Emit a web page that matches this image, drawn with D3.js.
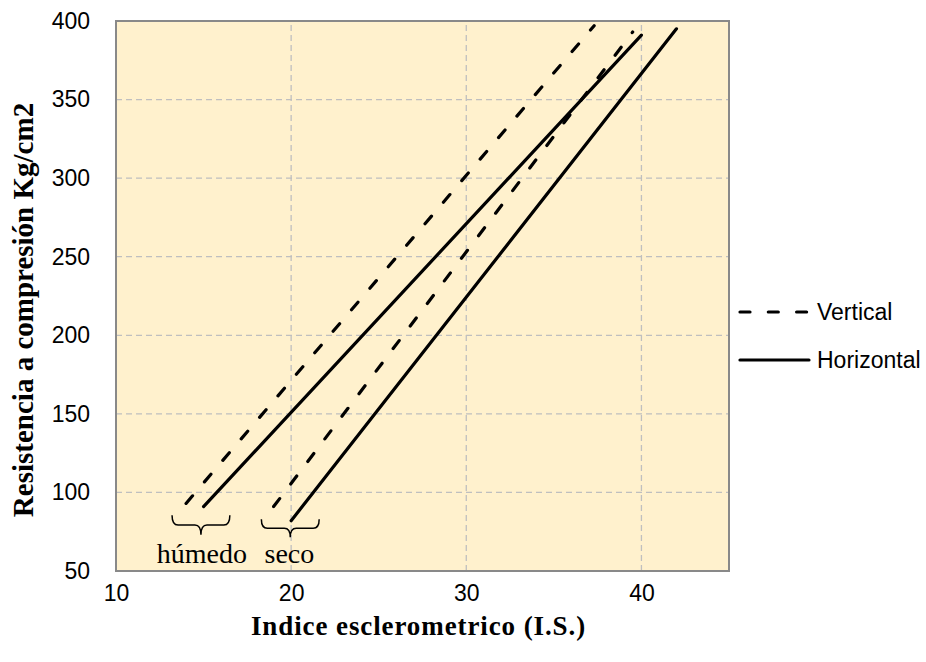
<!DOCTYPE html>
<html>
<head>
<meta charset="utf-8">
<script src="https://cdn.jsdelivr.net/npm/d3@7"></script>
<style>
  body { margin: 0; background: #fff; }
  svg { display: block; }
</style>
</head>
<body>
<svg id="chart" width="926" height="662"></svg>
<script>
// ---- data ----
const xTicks = [10, 20, 30, 40];
const yTicks = [50, 100, 150, 200, 250, 300, 350, 400];
const lineNames = ["Vertical húmedo", "Horizontal húmedo", "Vertical seco", "Horizontal seco"];
const lineKinds = ["Vertical", "Horizontal", "Vertical", "Horizontal"];
const lineX = [[14, 37.3], [15, 40], [19, 39.5], [20, 42]];
const lineY = [[93, 397], [91, 391], [91, 393], [82, 395]];
const legendNames = ["Vertical", "Horizontal"];
const braceLabels = ["húmedo", "seco"];
const braceX0 = [13.2, 18.3];
const braceX1 = [16.5, 21.6];
const braceTop = [85.5, 83];
const braceTip = [73, 71.5];
const braceLabelX = [14.9, 19.9];
const braceLabelY = [55, 55];

// ---- layout ----
const svg = d3.select("#chart");
const x = d3.scaleLinear().domain([10, 45]).range([116, 729]);
const y = d3.scaleLinear().domain([50, 400]).range([571, 21]);
const sansFont = "'Liberation Sans', Arial, sans-serif";
const serifFont = "'Liberation Serif', 'Times New Roman', serif";

// plot background
svg.append("rect")
  .attr("x", x(10)).attr("y", y(400))
  .attr("width", x(45) - x(10)).attr("height", y(50) - y(400))
  .attr("fill", "#fff1cd");

// grid
svg.append("g").selectAll("line").data(xTicks.slice(1)).join("line")
  .attr("x1", d => x(d)).attr("x2", d => x(d))
  .attr("y1", y(50)).attr("y2", y(400))
  .attr("stroke", "#bfbfbf").attr("stroke-width", 1.3).attr("stroke-dasharray", "6,4");
svg.append("g").selectAll("line").data(yTicks.slice(1, -1)).join("line")
  .attr("x1", x(10)).attr("x2", x(45))
  .attr("y1", d => y(d)).attr("y2", d => y(d))
  .attr("stroke", "#bfbfbf").attr("stroke-width", 1.3).attr("stroke-dasharray", "6,4");

// border
svg.append("rect")
  .attr("x", x(10)).attr("y", y(400))
  .attr("width", x(45) - x(10)).attr("height", y(50) - y(400))
  .attr("fill", "none").attr("stroke", "#898989").attr("stroke-width", 2);

// axes
const xAxis = svg.append("g").attr("transform", `translate(0,${y(50)})`)
  .call(d3.axisBottom(x).tickValues(xTicks).tickSize(0).tickPadding(14));
const yAxis = svg.append("g").attr("transform", `translate(${x(10)},0)`)
  .call(d3.axisLeft(y).tickValues(yTicks).tickSize(0).tickPadding(26));
[xAxis, yAxis].forEach(g => {
  g.select(".domain").remove();
  g.selectAll("text").attr("font-family", sansFont).attr("font-size", 23).attr("fill", "#000");
});
xAxis.selectAll("text").attr("dy", "0.71em");

// lines
const dashFor = k => k === "Vertical" ? "10,18.3" : null;
const lineGen = d3.line().x(d => x(d[0])).y(d => y(d[1]));
svg.append("g").selectAll("path").data(lineNames.map((n, i) => ({
  name: n, kind: lineKinds[i], pts: lineX[i].map((v, j) => [v, lineY[i][j]])
}))).join("path")
  .attr("d", d => lineGen(d.pts))
  .attr("fill", "none").attr("stroke", "#000").attr("stroke-width", 3.2)
  .attr("stroke-linecap", "round")
  .attr("stroke-dasharray", d => dashFor(d.kind));

// braces
function bracePath(x0, x1, yt, yb) {
  const xm = (x0 + x1) / 2;
  const mid = yt + (yb - yt) * 0.5;
  const r = 6;
  return `M${x0},${yt} Q${x0},${mid} ${x0 + r},${mid} L${xm - r},${mid} Q${xm},${mid} ${xm},${yb}` +
         ` Q${xm},${mid} ${xm + r},${mid} L${x1 - r},${mid} Q${x1},${mid} ${x1},${yt}`;
}
svg.append("g").selectAll("path").data(braceLabels).join("path")
  .attr("d", (d, i) => bracePath(x(braceX0[i]), x(braceX1[i]), y(braceTop[i]), y(braceTip[i])))
  .attr("fill", "none").attr("stroke", "#000").attr("stroke-width", 1.5);
svg.append("g").selectAll("text").data(braceLabels).join("text")
  .attr("x", (d, i) => x(braceLabelX[i])).attr("y", (d, i) => y(braceLabelY[i]))
  .attr("text-anchor", "middle")
  .attr("font-family", serifFont).attr("font-size", 28).attr("fill", "#000")
  .text(d => d);

// legend
const leg = svg.append("g").selectAll("g").data(legendNames).join("g")
  .attr("transform", (d, i) => `translate(740,${312 + i * 48})`);
leg.append("line").attr("x1", 0).attr("x2", 69).attr("y1", 0).attr("y2", 0)
  .attr("stroke", "#000").attr("stroke-width", 3.2).attr("stroke-linecap", "round")
  .attr("stroke-dasharray", d => dashFor(d));
leg.append("text").attr("x", 77).attr("y", 0).attr("dy", "0.35em")
  .attr("font-family", sansFont).attr("font-size", 23).attr("fill", "#000")
  .text(d => d);

// axis titles
svg.append("text")
  .attr("x", (x(10) + x(45)) / 2 - 4).attr("y", 635)
  .attr("text-anchor", "middle")
  .attr("font-family", serifFont).attr("font-weight", "bold").attr("font-size", 27)
  .attr("letter-spacing", "0.9px")
  .text("Indice esclerometrico (I.S.)");
svg.append("text")
  .attr("transform", `translate(33,${(y(50) + y(400)) / 2 + 14}) rotate(-90)`)
  .attr("text-anchor", "middle")
  .attr("font-family", serifFont).attr("font-weight", "bold").attr("font-size", 29)
  .text("Resistencia a compresión Kg/cm2");
</script>
</body>
</html>
